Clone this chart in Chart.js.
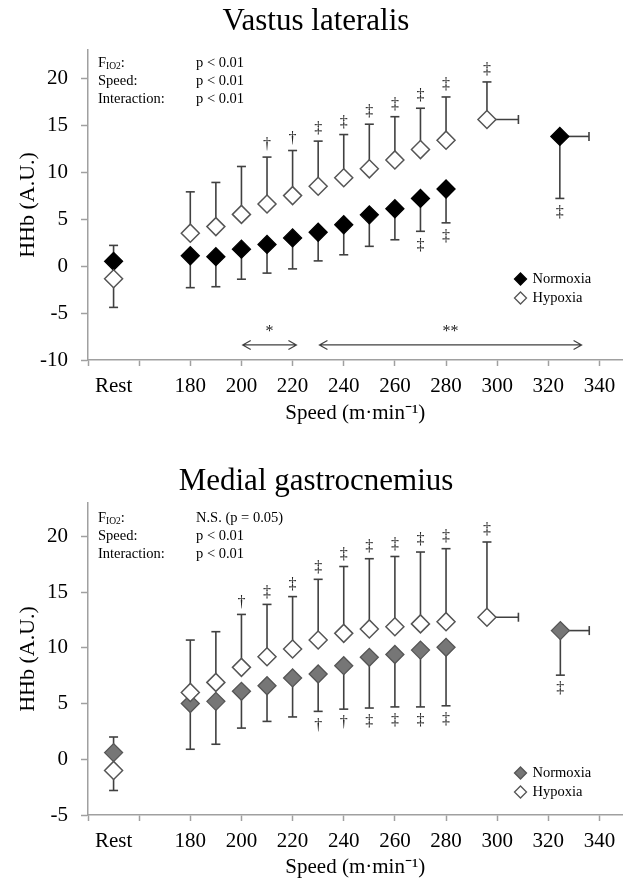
<!DOCTYPE html>
<html><head><meta charset="utf-8">
<script src="https://cdn.jsdelivr.net/npm/chart.js@4.4.0/dist/chart.umd.min.js"></script>
<style>
html,body{margin:0;padding:0;background:#fff;}
#wrap{position:relative;width:633px;height:881px;overflow:hidden;}
.c{position:absolute;left:0;}
</style></head><body>
<div id="wrap">
<div class="c" style="top:0;width:633px;height:440px"><canvas id="vl" width="633" height="440"></canvas></div>
<div class="c" style="top:440px;width:633px;height:441px"><canvas id="mg" width="633" height="441"></canvas></div>
</div>
<script>
// ---------- data ----------
const speeds = [180,190,200,210,220,230,240,250,260,270,280];
const restSpeed = 150;
const restLabel = 'Rest';
const xTickValues = [140,150,160,180,200,220,240,260,280,300,320,340];
const seriesNames = ['Normoxia','Hypoxia'];

// Vastus lateralis
const vlNormoxia    = [1.1, 1.0, 1.8, 2.3, 3.0, 3.6, 4.4, 5.45, 6.1, 7.2, 8.2];
const vlNormoxiaSD  = [3.4, 3.2, 3.2, 3.05, 3.3, 3.05, 3.2, 3.35, 3.3, 3.5, 3.6];
const vlHypoxia     = [3.5, 4.2, 5.5, 6.6, 7.5, 8.5, 9.4, 10.35, 11.3, 12.4, 13.4];
const vlHypoxiaSD   = [4.4, 4.7, 5.1, 5.0, 4.8, 4.8, 4.6, 4.75, 4.6, 4.4, 4.6];
const vlRest        = [0.5, -1.35];   // normoxia, hypoxia
const vlRestSD      = [1.7, 3.05];
const vlPeak        = [13.8, 15.6];   // normoxia, hypoxia at peak speed
const vlPeakSD      = [6.6, 4.0];
const vlPeakSpeed   = [324.5, 296];
const vlPeakSpeedSD = [11.4, 12.3];
const vlNormoxiaSig = ['','','','','','','','','','‡','‡','‡'];
const vlHypoxiaSig  = ['','','','†','†','‡','‡','‡','‡','‡','‡','‡'];
const vlStats       = ['p < 0.01','p < 0.01','p < 0.01'];
const vlYTicks      = [-10,-5,0,5,10,15,20];
const vlArrowFrom   = [200.5, 230.5];
const vlArrowTo     = [221.5, 333];
const vlArrowLabel  = ['*','**'];
const vlArrowLevel  = -8.4;

// Medial gastrocnemius
const mgNormoxia    = [5.0, 5.2, 6.1, 6.6, 7.3, 7.65, 8.4, 9.15, 9.4, 9.8, 10.05];
const mgNormoxiaSD  = [4.1, 3.85, 3.3, 3.2, 3.5, 3.35, 3.9, 4.55, 4.7, 5.1, 5.25];
const mgHypoxia     = [6.0, 6.9, 8.25, 9.2, 9.9, 10.7, 11.3, 11.7, 11.9, 12.15, 12.35];
const mgHypoxiaSD   = [4.7, 4.55, 4.75, 4.7, 4.7, 5.45, 6.0, 6.3, 6.3, 6.45, 6.55];
const mgRest        = [0.6, -1.0];
const mgRestSD      = [1.4, 1.8];
const mgPeak        = [11.55, 12.75];
const mgPeakSD      = [4.0, 6.75];
const mgPeakSpeed   = [324.7, 296];
const mgPeakSpeedSD = [11.3, 12.3];
const mgNormoxiaSig = ['','','','','','†','†','‡','‡','‡','‡','‡'];
const mgHypoxiaSig  = ['','','†','‡','‡','‡','‡','‡','‡','‡','‡','‡'];
const mgStats       = ['N.S. (p = 0.05)','p < 0.01','p < 0.01'];
const mgYTicks      = [-5,0,5,10,15,20];

const statLabels = ['Speed:','Interaction:'];

// ---------- drawing ----------
const SERIF = "'Liberation Serif','Times New Roman',serif";
const BAR = '#404040';
const AXIS = '#a0a0a0';

const errorBars = {
  id: 'errorBars',
  beforeDatasetsDraw(chart) {
    const {ctx, scales:{x, y}} = chart;
    ctx.save();
    ctx.strokeStyle = BAR; ctx.lineWidth = 1.6;
    const cap = 4.5;
    chart.data.datasets.forEach((ds) => {
      ds.data.forEach(p => {
        const px = x.getPixelForValue(p.x), py = y.getPixelForValue(p.y);
        const seg = (x1,y1,x2,y2)=>{ctx.beginPath();ctx.moveTo(x1,y1);ctx.lineTo(x2,y2);ctx.stroke();};
        if (p.up != null) { const t = y.getPixelForValue(p.y + p.up); seg(px,py,px,t); seg(px-cap,t,px+cap,t); }
        if (p.down != null) { const b = y.getPixelForValue(p.y - p.down); seg(px,py,px,b); seg(px-cap,b,px+cap,b); }
        if (p.right != null) { const r = x.getPixelForValue(p.x + p.right); seg(px,py,r,py); seg(r,py-cap,r,py+cap); }
      });
    });
    ctx.restore();
  },
  afterDatasetsDraw(chart) {
    const {ctx, scales:{x, y}} = chart;
    ctx.save();
    ctx.fillStyle = '#222'; ctx.font = '16px ' + SERIF;
    ctx.textAlign = 'center'; ctx.textBaseline = 'middle';
    chart.data.datasets.forEach((ds) => {
      ds.data.forEach(p => {
        if (!p.sig) return;
        const px = x.getPixelForValue(p.x);
        if (p.up != null) ctx.fillText(p.sig, px, y.getPixelForValue(p.y + p.up) - 12);
        else if (p.down != null) ctx.fillText(p.sig, px, y.getPixelForValue(p.y - p.down) + 14);
      });
    });
    ctx.restore();
  }
};

function diamond(ctx, cx, cy, r, fill, stroke) {
  ctx.beginPath();
  ctx.moveTo(cx, cy - r); ctx.lineTo(cx + r, cy); ctx.lineTo(cx, cy + r); ctx.lineTo(cx - r, cy); ctx.closePath();
  ctx.fillStyle = fill; ctx.fill();
  ctx.strokeStyle = stroke; ctx.lineWidth = 1.3; ctx.stroke();
}

const extras = {
  id: 'extras',
  afterDraw(chart, args, o) {
    const {ctx, chartArea:ca, scales:{x, y}} = chart;
    ctx.save();
    // stats
    ctx.fillStyle = '#000'; ctx.textBaseline = 'middle'; ctx.textAlign = 'left';
    const sx = ca.left + 10, vx = ca.left + 108, sy = ca.top + o.statTop;
    ctx.font = '14.5px ' + SERIF;
    ctx.fillText('F', sx, sy);
    const fw = ctx.measureText('F').width;
    ctx.font = '9.5px ' + SERIF;
    ctx.fillText('IO2', sx + fw, sy + 3);
    const sw = ctx.measureText('IO2').width;
    ctx.font = '14.5px ' + SERIF;
    ctx.fillText(':', sx + fw + sw, sy);
    statLabels.forEach((t,i)=>ctx.fillText(t, sx, sy + 18*(i+1)));
    o.stats.forEach((t,i)=>ctx.fillText(t, vx, sy + 18*i));
    // legend
    const lx = ca.right - o.legRight, ly = ca.bottom - o.legBottom;
    o.legend.forEach((l,i)=>{
      diamond(ctx, lx, ly + 19*i, 6, l.fill, l.stroke);
      ctx.fillStyle = '#000'; ctx.font = '14.5px ' + SERIF; ctx.textAlign = 'left';
      ctx.fillText(l.text, lx + 12, ly + 19*i);
    });
    // arrows
    if (o.arrows) {
      const ay = y.getPixelForValue(o.arrows.level);
      ctx.strokeStyle = BAR; ctx.lineWidth = 1.2;
      o.arrows.from.forEach((f,i)=>{
        const x1 = x.getPixelForValue(f), x2 = x.getPixelForValue(o.arrows.to[i]);
        ctx.beginPath(); ctx.moveTo(x1, ay); ctx.lineTo(x2, ay);
        ctx.moveTo(x1+8, ay-4.5); ctx.lineTo(x1, ay); ctx.lineTo(x1+8, ay+4.5);
        ctx.moveTo(x2-8, ay-4.5); ctx.lineTo(x2, ay); ctx.lineTo(x2-8, ay+4.5);
        ctx.stroke();
        ctx.fillStyle = '#222'; ctx.font = '16px ' + SERIF; ctx.textAlign = 'center';
        ctx.fillText(o.arrows.label[i], (x1+x2)/2, ay - 13);
      });
    }
    ctx.restore();
  }
};

function buildSeries(mean, sd, rest, restSD, peak, peakSD, pSpeed, pSpeedSD, sig, idx) {
  const isN = idx === 0;
  const pts = [];
  const r = {x: restSpeed, y: rest[idx]};
  if (isN) r.up = restSD[idx]; else r.down = restSD[idx];
  pts.push(r);
  speeds.forEach((s,i)=>{
    const p = {x: s, y: mean[i], sig: sig[i]};
    if (isN) p.down = sd[i]; else p.up = sd[i];
    pts.push(p);
  });
  const pk = {x: pSpeed[idx], y: peak[idx], right: pSpeedSD[idx], sig: sig[speeds.length]};
  if (isN) pk.down = peakSD[idx]; else pk.up = peakSD[idx];
  pts.push(pk);
  return pts;
}

function makeChart(id, o) {
  return new Chart(document.getElementById(id), {
    type: 'scatter',
    data: { datasets: [
      { label: seriesNames[0], order: 1, data: buildSeries(o.n, o.nSD, o.rest, o.restSD, o.peak, o.peakSD, o.pSpeed, o.pSpeedSD, o.nSig, 0),
        pointStyle: 'rectRot', pointRadius: 9, backgroundColor: o.nFill, borderColor: o.nStroke, borderWidth: 1.3 },
      { label: seriesNames[1], order: 0, data: buildSeries(o.h, o.hSD, o.rest, o.restSD, o.peak, o.peakSD, o.pSpeed, o.pSpeedSD, o.hSig, 1),
        pointStyle: 'rectRot', pointRadius: 9, backgroundColor: '#fff', borderColor: '#555', borderWidth: 1.5 }
    ]},
    plugins: [errorBars, extras],
    options: {
      responsive: false, animation: false, events: [],
      layout: { padding: { left: 0, right: 1, top: 0, bottom: 0 } },
      plugins: {
        legend: { display: false }, tooltip: { enabled: false },
        title: { display: true, text: o.title, color: '#000', font: { family: SERIF, size: 31, weight: 'normal' },
                 padding: { top: o.tPadTop, bottom: o.tPadBottom } },
        extras: { stats: o.stats, statTop: o.statTop, legRight: 102, legBottom: o.legBottom, arrows: o.arrows,
          legend: [{text: seriesNames[0], fill: o.nFill, stroke: o.nStroke}, {text: seriesNames[1], fill: '#fff', stroke: '#555'}] }
      },
      scales: {
        x: { type: 'linear', min: 140, max: 349,
          afterBuildTicks: s => { s.ticks = xTickValues.map(v => ({value: v})); },
          afterFit: s => { s.height = o.xHeight; s.paddingRight = 0; s.paddingLeft = 0; },
          ticks: { autoSkip: false, maxRotation: 0, minRotation: 0, padding: 8, color: '#000', font: { family: SERIF, size: 21 },
            callback: v => v === restSpeed ? restLabel : (v < 180 ? '' : String(v)) },
          grid: { drawOnChartArea: false, drawTicks: true, tickLength: 6, tickWidth: 1.5,
            tickColor: c => (c.tick && c.tick.value === restSpeed) ? 'rgba(0,0,0,0)' : AXIS },
          border: { display: true, color: AXIS, width: 1.5 },
          title: { display: true, text: 'Speed (m·min⁻¹)', color: '#000', font: { family: SERIF, size: 21 }, padding: { top: 0, bottom: o.xTitlePad } }
        },
        y: { min: o.yMin, max: 23,
          afterBuildTicks: s => { s.ticks = o.yTicks.map(v => ({value: v})); },
          afterFit: s => { s.width = 88; },
          ticks: { padding: 13, color: '#000', font: { family: SERIF, size: 21 }, callback: v => String(v) },
          grid: { drawOnChartArea: false, tickLength: 7, tickWidth: 1.5, tickColor: AXIS },
          border: { display: true, color: AXIS, width: 1.5 },
          title: { display: true, text: 'HHb (A.U.)', color: '#000', font: { family: SERIF, size: 22 }, padding: { top: 15, bottom: 0 } }
        }
      }
    }
  });
}

makeChart('vl', {
  title: 'Vastus lateralis', tPadTop: 3.5, tPadBottom: 9.3,
  n: vlNormoxia, nSD: vlNormoxiaSD, h: vlHypoxia, hSD: vlHypoxiaSD,
  rest: vlRest, restSD: vlRestSD, peak: vlPeak, peakSD: vlPeakSD, pSpeed: vlPeakSpeed, pSpeedSD: vlPeakSpeedSD,
  nSig: vlNormoxiaSig, hSig: vlHypoxiaSig, stats: vlStats, statTop: 13, legBottom: 81,
  nFill: '#000', nStroke: '#000', yMin: -10, yTicks: vlYTicks, xHeight: 80, xTitlePad: 14,
  arrows: { from: vlArrowFrom, to: vlArrowTo, label: vlArrowLabel, level: vlArrowLevel }
});
makeChart('mg', {
  title: 'Medial gastrocnemius', tPadTop: 23.4, tPadBottom: 2.4,
  n: mgNormoxia, nSD: mgNormoxiaSD, h: mgHypoxia, hSD: mgHypoxiaSD,
  rest: mgRest, restSD: mgRestSD, peak: mgPeak, peakSD: mgPeakSD, pSpeed: mgPeakSpeed, pSpeedSD: mgPeakSpeedSD,
  nSig: mgNormoxiaSig, hSig: mgHypoxiaSig, stats: mgStats, statTop: 15, legBottom: 42,
  nFill: '#767676', nStroke: '#555', yMin: -5, yTicks: mgYTicks, xHeight: 66, xTitlePad: 1,
  arrows: null
});
</script>
</body></html>
